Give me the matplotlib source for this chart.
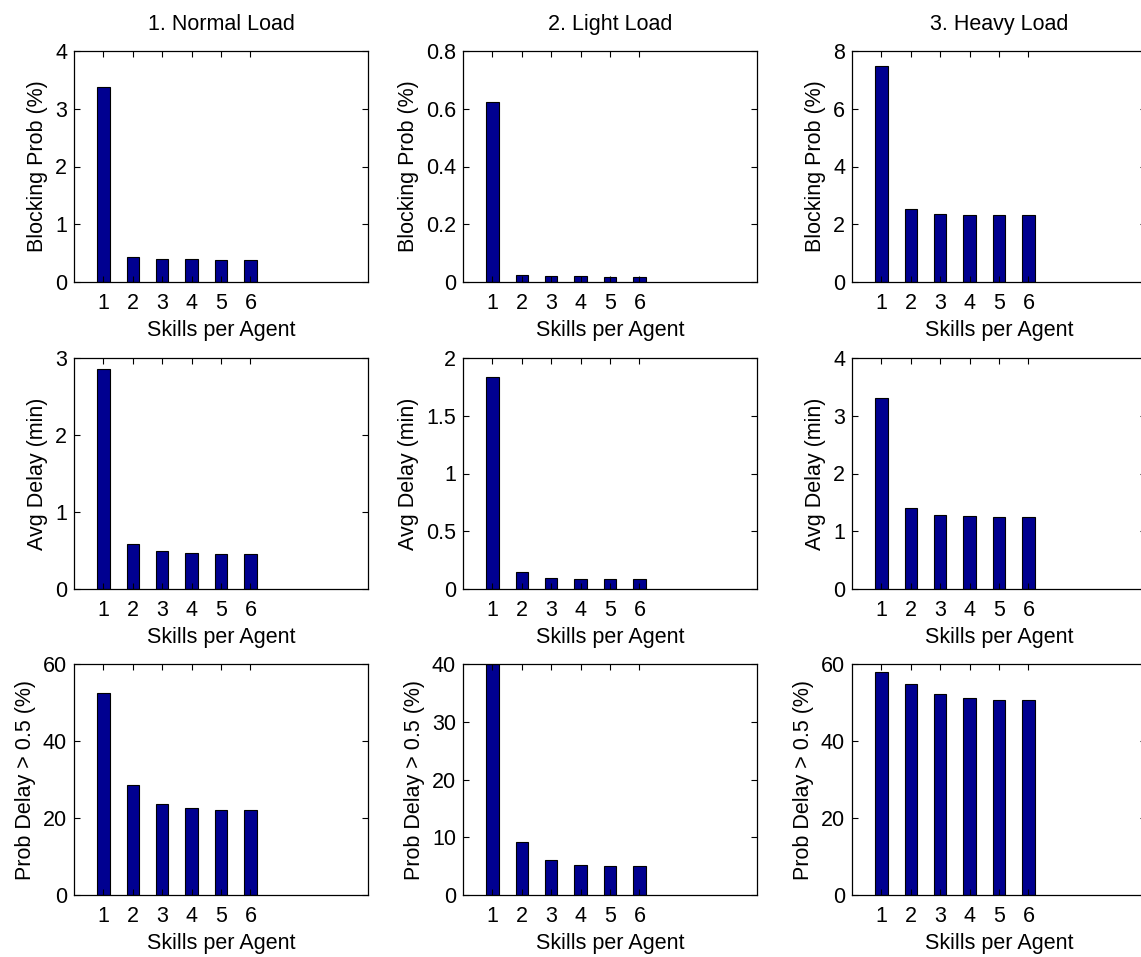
import numpy as np
import matplotlib
matplotlib.use("Agg")
import matplotlib.pyplot as plt

plt.rcParams['font.family'] = ['Liberation Sans', 'DejaVu Sans']
plt.rcParams['font.size'] = 15.5

# Data
skills = [1, 2, 3, 4, 5, 6]
titles = ["1. Normal Load", "2. Light Load", "3. Heavy Load"]
ylabels = ["Blocking Prob (%)", "Avg Delay (min)", "Prob Delay > 0.5 (%)"]

normal_block = [3.38, 0.43, 0.39, 0.39, 0.375, 0.375]
normal_delay = [2.86, 0.59, 0.49, 0.47, 0.46, 0.46]
normal_prob = [52.4, 28.5, 23.7, 22.5, 22.1, 22.0]

light_block = [0.622, 0.023, 0.020, 0.020, 0.019, 0.019]
light_delay = [1.835, 0.148, 0.096, 0.088, 0.087, 0.087]
light_prob = [40.0, 9.1, 6.0, 5.24, 5.06, 4.95]

heavy_block = [7.49, 2.53, 2.35, 2.32, 2.31, 2.31]
heavy_delay = [3.30, 1.41, 1.29, 1.27, 1.25, 1.24]
heavy_prob = [58.0, 54.8, 52.1, 51.2, 50.6, 50.6]

data = [[normal_block, light_block, heavy_block],
        [normal_delay, light_delay, heavy_delay],
        [normal_prob, light_prob, heavy_prob]]

ylims = [[4, 0.8, 8], [3, 2, 4], [60, 40, 60]]
yticks = [[[0, 1, 2, 3, 4], [0, 0.2, 0.4, 0.6, 0.8], [0, 2, 4, 6, 8]],
          [[0, 1, 2, 3], [0, 0.5, 1, 1.5, 2], [0, 1, 2, 3, 4]],
          [[0, 20, 40, 60], [0, 10, 20, 30, 40], [0, 20, 40, 60]]]

W, H = 1141, 957
fig = plt.figure(figsize=(W / 100, H / 100), dpi=100)

col_left = [74, 463, 852]
row_top = [51, 358, 664]
aw, ah = 294, 231

for r in range(3):
    for c in range(3):
        ax = fig.add_axes([col_left[c] / W, 1 - (row_top[r] + ah) / H, aw / W, ah / H])
        ax.bar(skills, data[r][c], width=0.42, color='#000090',
               edgecolor='black', linewidth=0.8)
        ax.set_xlim(0, 10)
        ax.set_ylim(0, ylims[r][c])
        ax.set_xticks(skills)
        ax.set_yticks(yticks[r][c])
        ax.set_yticklabels([('%g' % v) for v in yticks[r][c]])
        ax.tick_params(direction='in', top=True, right=True, length=4,
                       width=0.8)
        ax.tick_params(axis='x', pad=8)
        ax.tick_params(axis='y', pad=5)
        for s in ax.spines.values():
            s.set_linewidth(0.9)
        ax.set_xlabel("Skills per Agent", labelpad=4)
        ax.set_ylabel(ylabels[r], labelpad=5)
        if r == 0:
            ax.set_title(titles[c], fontsize=15.5, pad=15)

fig.savefig("out.png", dpi=100)
